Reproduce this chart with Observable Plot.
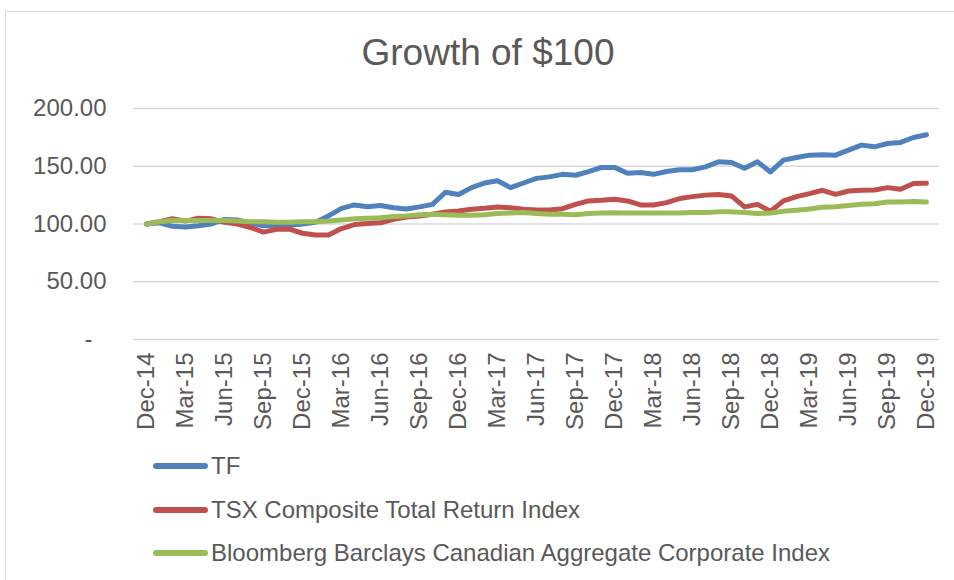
<!DOCTYPE html>
<html>
<head>
<meta charset="utf-8">
<script src="https://cdn.jsdelivr.net/npm/d3@7"></script>
<script src="https://cdn.jsdelivr.net/npm/@observablehq/plot@0.6"></script>
<style>
  html, body { margin: 0; padding: 0; background: #fff; overflow: hidden; }
  body { width: 954px; height: 580px; position: relative; font-family: "Liberation Sans", Arial, sans-serif; color: #595959; }
  #frame { position: absolute; left: 5px; top: 11px; width: 1000px; height: 620px; border: 1px solid #d9d9d9; box-sizing: border-box; }
  #title { position: absolute; left: 0; top: 34px; width: 976px; text-align: center; font-size: 37px; line-height: 37px; color: #595959; }
  #chart { position: absolute; left: 0; top: 0; }
  .leg { position: absolute; left: 153px; height: 24px; font-size: 24px; line-height: 24px; white-space: nowrap; color: #595959; }
  .leg .sw { position: absolute; left: 0; top: 9px; width: 55px; height: 6px; border-radius: 3px; }
  .leg .tx { position: absolute; left: 58px; top: 0; }
</style>
</head>
<body>
<div id="frame"></div>
<div id="chart"></div>
<div id="title">Growth of $100</div>
<div id="legend"></div>
<script>
const months = [
  "Dec-14","Jan-15","Feb-15","Mar-15","Apr-15","May-15","Jun-15","Jul-15","Aug-15","Sep-15","Oct-15","Nov-15",
  "Dec-15","Jan-16","Feb-16","Mar-16","Apr-16","May-16","Jun-16","Jul-16","Aug-16","Sep-16","Oct-16","Nov-16",
  "Dec-16","Jan-17","Feb-17","Mar-17","Apr-17","May-17","Jun-17","Jul-17","Aug-17","Sep-17","Oct-17","Nov-17",
  "Dec-17","Jan-18","Feb-18","Mar-18","Apr-18","May-18","Jun-18","Jul-18","Aug-18","Sep-18","Oct-18","Nov-18",
  "Dec-18","Jan-19","Feb-19","Mar-19","Apr-19","May-19","Jun-19","Jul-19","Aug-19","Sep-19","Oct-19","Nov-19",
  "Dec-19"
];
const tickLabels = ["Dec-14","Mar-15","Jun-15","Sep-15","Dec-15","Mar-16","Jun-16","Sep-16","Dec-16","Mar-17",
  "Jun-17","Sep-17","Dec-17","Mar-18","Jun-18","Sep-18","Dec-18","Mar-19","Jun-19","Sep-19","Dec-19"];
const yTicks = [50, 100, 150, 200];

const seriesNames = ["TF", "TSX Composite Total Return Index", "Bloomberg Barclays Canadian Aggregate Corporate Index"];
const seriesColors = ["#4f81bd", "#c0504d", "#9bbb59"];

const tf = [
  100, 101, 98, 97.5, 98.5, 100, 104, 103.5, 101, 98.5,
  99, 99, 100, 101.5, 107, 113.5, 116.5, 115, 116, 114,
  113, 114.8, 117, 127.5, 125.5, 131.5, 135.5, 137.5, 131.5, 135.5,
  139.5, 140.8, 143, 142.2, 145.4, 149, 149, 144, 144.6, 143,
  145.4, 147, 147, 149.5, 153.8, 153.2, 148.3, 153.8, 145.1, 155.3,
  157.6, 159.6, 159.9, 159.6, 164, 168.3, 166.8, 169.7, 170.6, 174.9, 177.3
];
const tsx = [
  100, 102, 104.5, 102.5, 105, 104.5, 101.5, 100, 97, 93,
  95.5, 95.5, 92, 90.5, 90.5, 96, 99.5, 100.5, 101, 104,
  106, 107, 108.5, 110.5, 111.3, 112.7, 113.6, 114.8, 114, 112.7,
  112.2, 112.2, 113.3, 117, 120, 120.5, 121.4, 120, 116.5, 116.5,
  118.5, 122, 123.7, 125, 125.5, 124.3, 114.8, 117, 111, 120,
  123.7, 126.3, 129.2, 125.7, 128.6, 129.2, 129.5, 131.5, 130.1, 135, 135.3
];
const bbg = [
  100, 102, 103, 103, 103, 103, 103, 102.5, 102, 102,
  101.5, 101.5, 102, 102, 102.5, 103.5, 104.5, 105, 105.5, 106.5,
  107, 108, 108.5, 108, 107.5, 107.5, 108, 109, 109.5, 110,
  109, 108.5, 108.5, 108, 109, 109.5, 109.8, 109.5, 109.5, 109.5,
  109.5, 109.5, 110, 110, 110.5, 110.5, 110, 109, 109.5, 111,
  112, 113, 114.5, 115, 116, 117, 117.5, 119, 119, 119.5, 119
];

const seriesValues = [tf, tsx, bbg];
const data = seriesNames.flatMap((name, s) =>
  seriesValues[s].map((v, i) => ({ month: months[i], value: v, series: name }))
);

const chart = Plot.plot({
  width: 954,
  height: 440,
  marginLeft: 133,
  marginRight: 15,
  marginTop: 108,
  marginBottom: 101,
  style: { fontFamily: '"Liberation Sans", Arial, sans-serif', fontSize: "24px", color: "#595959", background: "transparent", overflow: "visible" },
  x: { type: "point", domain: months, padding: 0.5, axis: null },
  y: { domain: [0, 200], axis: null },
  color: { domain: seriesNames, range: seriesColors },
  marks: [
    Plot.gridY(yTicks, { stroke: "#d9d9d9", strokeOpacity: 1, strokeWidth: 1.5 }),
    Plot.ruleY([0], { stroke: "#d9d9d9", strokeWidth: 1.5 }),
    Plot.axisY(yTicks, { tickSize: 0, tickPadding: 27, tickFormat: d3.format(".2f"), label: null, fontSize: 24 }),
    Plot.axisY([0], { tickSize: 0, tickPadding: 41, tickFormat: () => "-", label: null, fontSize: 24 }),
    Plot.axisX(tickLabels, { tickSize: 0, tickPadding: 13, tickRotate: -90, label: null, fontSize: 24 }),
    Plot.line(data, { x: "month", y: "value", z: "series", stroke: "series", strokeWidth: 5, strokeLinejoin: "round", strokeLinecap: "round" })
  ]
});
document.getElementById("chart").appendChild(chart);

const legendY = [454, 498, 541];
const legend = document.getElementById("legend");
seriesNames.forEach((name, i) => {
  const item = document.createElement("div");
  item.className = "leg";
  item.style.top = legendY[i] + "px";
  const sw = document.createElement("div");
  sw.className = "sw";
  sw.style.background = seriesColors[i];
  const tx = document.createElement("div");
  tx.className = "tx";
  tx.textContent = name;
  item.appendChild(sw);
  item.appendChild(tx);
  legend.appendChild(item);
});
</script>
</body>
</html>
